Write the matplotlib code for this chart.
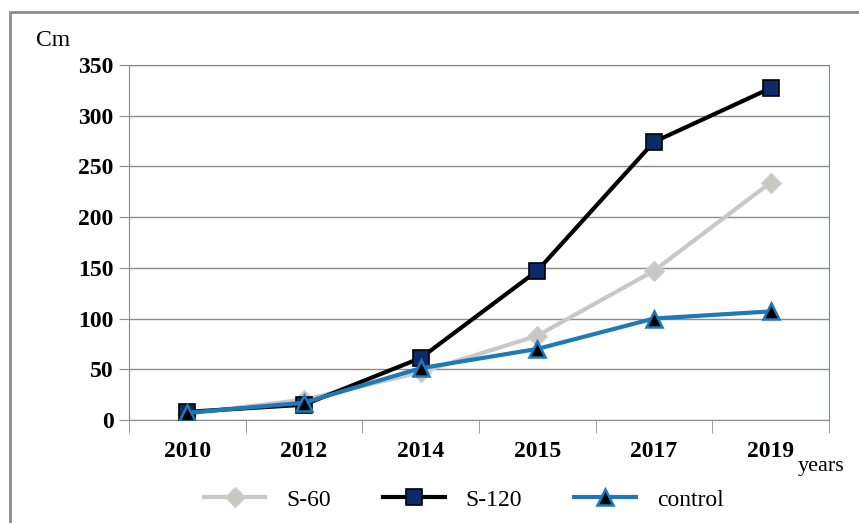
import matplotlib
matplotlib.use("Agg")
import matplotlib.pyplot as plt
from matplotlib.patches import Rectangle
from matplotlib.ticker import FixedLocator

years = ["2010", "2012", "2014", "2015", "2017", "2019"]
s60 = [6, 20, 47, 83, 147, 234]
s120 = [8, 15, 61, 147, 274, 327]
control = [7, 17, 51, 70, 100, 107]

plt.rcParams['font.family'] = ['Liberation Serif', 'DejaVu Serif']

fig = plt.figure(figsize=(8.59, 5.23), dpi=100)
ax = fig.add_axes([0.150, 0.197, 0.815, 0.679])

# outer frame of the picture
fig.patches.append(Rectangle((10 / 859, -0.1), 1.2, 1 - 12 / 523 + 0.1,
                             transform=fig.transFigure, fill=False,
                             edgecolor="#8c8c8c", linewidth=2))

x = list(range(len(years)))
ax.plot(x, s60, color="#c8c8c8", lw=3, marker="D", ms=10,
        mfc="#c8c8c0", mec="#d0d0d0", label="S-60", zorder=3)
ax.plot(x, s120, color="black", lw=3, marker="s", ms=12,
        mfc="#0d2b6b", mec="black", mew=1.2, label="S-120", zorder=4)
ax.plot(x, control, color="#1f78b8", lw=3, marker="^", ms=11,
        mfc="black", mec="#1f78b8", mew=1.8, label="control", zorder=5)

ax.set_xlim(-0.5, 5.5)
ax.set_ylim(0, 350)
ax.set_yticks(range(0, 351, 50))
ax.set_xticks(x)
ax.set_xticklabels(years)
ax.xaxis.set_minor_locator(FixedLocator([i - 0.5 for i in range(7)]))
ax.tick_params(axis="x", which="major", length=0, pad=15)
ax.tick_params(axis="x", which="minor", length=9, color="#8c8c8c", direction="out")
ax.tick_params(axis="y", length=7, color="#8c8c8c", pad=4)
for lab in ax.get_xticklabels() + ax.get_yticklabels():
    lab.set_fontweight("bold")
    lab.set_fontsize(17)

ax.grid(axis="y", color="#8c8c8c", lw=1)
ax.set_axisbelow(True)
ax.spines["left"].set_color("#8c8c8c")
ax.spines["bottom"].set_color("#8c8c8c")
ax.spines["top"].set_color("#4a9ab5")
ax.spines["right"].set_color("#4a9ab5")

fig.text(36 / 859, 1 - 40 / 523, "Cm", fontsize=17, va="center", ha="left")
fig.text(798 / 859, 1 - 467 / 523, "years", fontsize=16, va="center", ha="left")

fig.legend(loc="center", bbox_to_anchor=(0.54, 1 - 500 / 523), ncol=3,
           frameon=False, fontsize=17, handlelength=2.6, columnspacing=2.2,
           handletextpad=0.9)

fig.savefig("out.png", dpi=100)
